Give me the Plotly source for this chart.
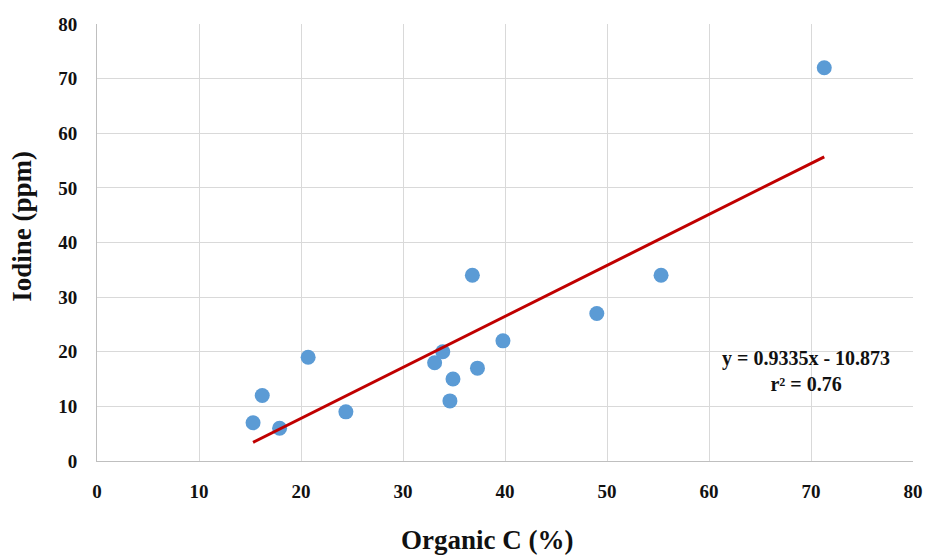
import plotly.graph_objects as go

organic_c = [15.3, 16.2, 17.9, 20.7, 24.4, 33.1, 33.9, 34.6, 34.9, 36.8, 37.3, 39.8, 49.0, 55.3, 71.3]
iodine = [7, 12, 6, 19, 9, 18, 20, 11, 15, 34, 17, 22, 27, 34, 72]
slope = 0.9335
intercept = -10.873
fit_x = [min(organic_c), max(organic_c)]
fit_y = [slope * v + intercept for v in fit_x]

fig = go.Figure()
fig.add_trace(go.Scatter(x=organic_c, y=iodine, mode="markers",
                         marker=dict(color="#5B9BD5", size=15), showlegend=False))
fig.add_trace(go.Scatter(x=fit_x, y=fit_y, mode="lines",
                         line=dict(color="#C00000", width=3), showlegend=False))

font_family = "Liberation Serif, Times New Roman, serif"
txt = "#111111"
fig.add_annotation(x=69.5, y=16.5, xref="x", yref="y",
                   text="<b>y = 0.9335x - 10.873<br>r² = 0.76</b>",
                   showarrow=False, font=dict(family=font_family, size=20, color=txt),
                   align="center")
fig.add_annotation(x=-0.092, y=0.538, xref="paper", yref="paper", textangle=-90,
                   text="<b>Iodine (ppm)</b>", showarrow=False,
                   xanchor="center", yanchor="middle",
                   font=dict(family=font_family, size=27, color=txt))
fig.add_annotation(x=0.478, y=-0.181, xref="paper", yref="paper",
                   text="<b>Organic C (%)</b>", showarrow=False,
                   xanchor="center", yanchor="middle",
                   font=dict(family=font_family, size=27, color=txt))

fig.update_layout(
    width=926, height=555,
    margin=dict(l=97, r=13, t=24, b=94),
    plot_bgcolor="white", paper_bgcolor="white",
    font=dict(family=font_family, color=txt),
    xaxis=dict(range=[0, 80], dtick=10, showgrid=True, gridcolor="#D9D9D9", gridwidth=1,
               zeroline=False, showline=True, linecolor="#BFBFBF", linewidth=1,
               tickfont=dict(size=19, family=font_family, weight="bold", color=txt),
               ticklabelstandoff=13, automargin=False),
    yaxis=dict(range=[0, 80], dtick=10, showgrid=True, gridcolor="#D9D9D9", gridwidth=1,
               zeroline=False, showline=True, linecolor="#BFBFBF", linewidth=1,
               tickfont=dict(size=19, family=font_family, weight="bold", color=txt),
               ticklabelstandoff=15, automargin=False),
)

fig.write_html("out.html")
